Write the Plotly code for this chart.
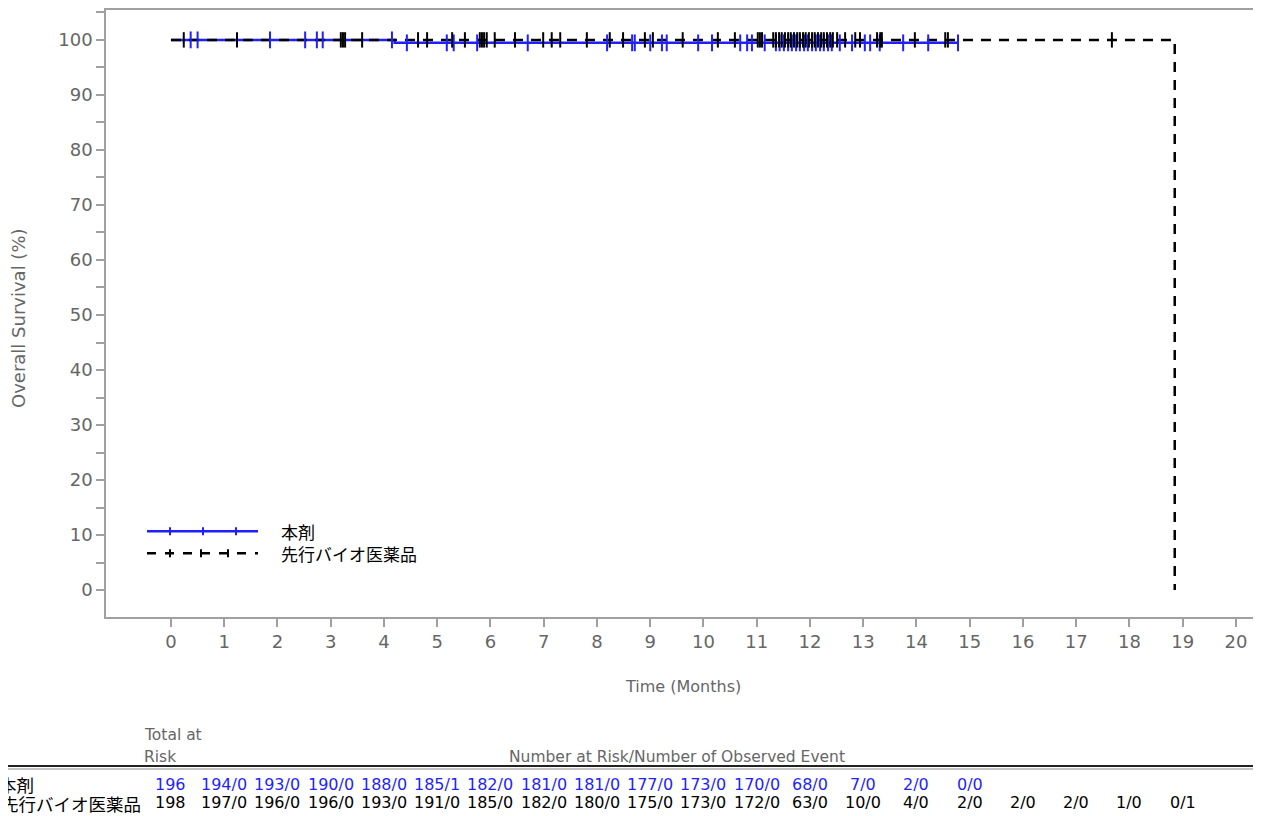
import plotly.graph_objects as go

# ---------------- data ----------------
groups = ["本剤", "先行バイオ医薬品"]

# Kaplan-Meier step points (time in months, survival %)
blue_times = [0.0, 4.20, 14.78]
blue_surv = [100.0, 99.46, 99.46]
black_times = [0.0, 18.85, 18.85]
black_surv = [100.0, 100.0, 0.0]

# censoring times
blue_censor = [0.37, 0.50, 1.86, 2.52, 2.74, 2.85, 4.15, 4.43, 5.18, 5.31, 5.75, 6.70,
               8.19, 8.66, 8.71, 9.00, 9.22, 9.31, 9.90, 10.16, 10.69, 10.82, 10.91,
               11.15, 11.36, 11.43, 11.51, 11.59, 11.66, 11.74, 11.81, 11.89, 11.96,
               12.04, 12.11, 12.19, 12.26, 12.34, 12.41, 12.56, 12.79, 13.03, 13.13,
               13.31, 13.75, 14.22, 14.78]
black_censor = [0.24, 1.24, 3.19, 3.23, 3.27, 3.59, 4.64, 4.81, 5.28, 5.52, 5.80, 5.84,
                5.88, 5.93, 6.08, 6.46, 6.99, 7.15, 7.31, 7.81, 8.24, 8.49, 8.90, 9.05,
                9.61, 10.27, 10.59, 11.02, 11.06, 11.10, 11.31, 11.36, 11.42, 11.47,
                11.53, 11.59, 11.64, 11.70, 11.76, 11.81, 11.87, 11.92, 11.98, 12.04,
                12.09, 12.15, 12.21, 12.26, 12.32, 12.38, 12.43, 12.51, 12.66, 12.85,
                12.94, 13.26, 13.32, 13.35, 13.97, 14.54, 14.59, 17.67]

risk_months_blue = list(range(0, 16))
risk_blue = ["196", "194/0", "193/0", "190/0", "188/0", "185/1", "182/0", "181/0",
             "181/0", "177/0", "173/0", "170/0", "68/0", "7/0", "2/0", "0/0"]
risk_months_black = list(range(0, 20))
risk_black = ["198", "197/0", "196/0", "196/0", "193/0", "191/0", "185/0", "182/0",
              "180/0", "175/0", "173/0", "172/0", "63/0", "10/0", "4/0", "2/0", "2/0",
              "2/0", "1/0", "0/1"]

x_ticks = list(range(0, 21))
y_ticks = list(range(0, 101, 10))

# ---------------- geometry helpers (page pixel coords; page has 8px body offset) ----------------
OFF = 8
PAGE_W, PAGE_H = 1261, 816
W, H = PAGE_W - OFF, PAGE_H - OFF
PLOT_L, PLOT_R, PLOT_T, PLOT_B = 106, 1261, 8, 617   # page coords of plot box
L, R, T, B = PLOT_L - OFF, PAGE_W - PLOT_R, PLOT_T - OFF, PAGE_H - PLOT_B
PW, PH = PLOT_R - PLOT_L, PLOT_B - PLOT_T


def px(xp):
    return (xp - PLOT_L) / PW


def py(yp):
    return (PLOT_B - yp) / PH


BLUE = "#1f1fff"
BLACK = "#000000"
GRAY = "#666666"
FRAME = "#a0a0a0"
FONT = "DejaVu Sans"
CJK = "Noto Sans CJK JP"


def surv_at(times, surv, t):
    val = surv[0]
    for tt, ss in zip(times, surv):
        if tt <= t:
            val = ss
    return val


fig = go.Figure()

fig.add_trace(go.Scatter(x=blue_times, y=blue_surv, mode="lines", line=dict(color=BLUE, width=2.5, shape="hv"),
                         showlegend=False, hoverinfo="skip"))
fig.add_trace(go.Scatter(x=black_times, y=black_surv, mode="lines",
                         line=dict(color=BLACK, width=2.5, shape="hv", dash="10px,8px"),
                         showlegend=False, hoverinfo="skip"))
fig.add_trace(go.Scatter(x=blue_censor, y=[surv_at(blue_times, blue_surv, t) for t in blue_censor],
                         mode="markers", marker=dict(symbol="line-ns", size=12, line=dict(color=BLUE, width=2)),
                         showlegend=False, hoverinfo="skip"))
fig.add_trace(go.Scatter(x=black_censor, y=[100.0 for t in black_censor],
                         mode="markers", marker=dict(symbol="line-ns", size=11, line=dict(color=BLACK, width=2)),
                         showlegend=False, hoverinfo="skip"))

shapes = []
annotations = []

# custom legend
ly1, ly2 = py(531), py(553)
shapes.append(dict(type="line", xref="paper", yref="paper", x0=px(147), x1=px(258), y0=ly1, y1=ly1,
                   line=dict(color=BLUE, width=2.5)))
for xt in [170, 203, 236]:
    shapes.append(dict(type="line", xref="paper", yref="paper", x0=px(xt), x1=px(xt),
                       y0=py(527), y1=py(535), line=dict(color=BLUE, width=2)))
shapes.append(dict(type="line", xref="paper", yref="paper", x0=px(147), x1=px(258), y0=ly2, y1=ly2,
                   line=dict(color=BLACK, width=2.5, dash="9px,9px")))
for xt in [170, 201, 228]:
    shapes.append(dict(type="line", xref="paper", yref="paper", x0=px(xt), x1=px(xt),
                       y0=py(549), y1=py(557), line=dict(color=BLACK, width=2)))
annotations.append(dict(text=groups[0], xref="paper", yref="paper", x=px(279), y=ly1, xanchor="left",
                        yanchor="middle", showarrow=False, font=dict(family=CJK, size=17, color=BLACK)))
annotations.append(dict(text=groups[1], xref="paper", yref="paper", x=px(279), y=ly2, xanchor="left",
                        yanchor="middle", showarrow=False, font=dict(family=CJK, size=17, color=BLACK)))

# axis titles
annotations.append(dict(text="Time (Months)", xref="paper", yref="paper", x=px(683), y=py(687),
                        xanchor="center", yanchor="middle", showarrow=False,
                        font=dict(family=FONT, size=16, color=GRAY)))
annotations.append(dict(text="Overall Survival (%)", xref="paper", yref="paper", x=px(19), y=py(317),
                        xanchor="center", yanchor="middle", showarrow=False, textangle=-90,
                        font=dict(family=FONT, size=18, color=GRAY)))

# risk table headings
annotations.append(dict(text="Total at", xref="paper", yref="paper", x=px(142), y=py(735),
                        xanchor="left", yanchor="middle", showarrow=False,
                        font=dict(family=FONT, size=15.5, color=GRAY)))
annotations.append(dict(text="Risk", xref="paper", yref="paper", x=px(142), y=py(757),
                        xanchor="left", yanchor="middle", showarrow=False,
                        font=dict(family=FONT, size=15.5, color=GRAY)))
annotations.append(dict(text="Number at Risk/Number of Observed Event", xref="paper", yref="paper",
                        x=px(677), y=py(757), xanchor="center", yanchor="middle", showarrow=False,
                        font=dict(family=FONT, size=15.5, color=GRAY)))
shapes.append(dict(type="line", xref="paper", yref="paper", x0=px(0), x1=px(PAGE_W), y0=py(766.5), y1=py(766.5),
                   line=dict(color="#222222", width=2)))
shapes.append(dict(type="line", xref="paper", yref="paper", x0=px(0), x1=px(PAGE_W), y0=py(769.5), y1=py(769.5),
                   line=dict(color="#888888", width=1)))

# row labels
annotations.append(dict(text=groups[0], xref="paper", yref="paper", x=px(-3), y=py(785),
                        xanchor="left", yanchor="middle", showarrow=False,
                        font=dict(family=CJK, size=17.5, color=BLACK)))
annotations.append(dict(text=groups[1], xref="paper", yref="paper", x=px(143), y=py(804),
                        xanchor="right", yanchor="middle", showarrow=False,
                        font=dict(family=CJK, size=17.5, color=BLACK)))

for m, t in zip(risk_months_blue, risk_blue):
    annotations.append(dict(text=t, xref="x", yref="paper", x=m, y=py(785), xanchor="center",
                            yanchor="middle", showarrow=False, font=dict(family=FONT, size=16, color=BLUE)))
for m, t in zip(risk_months_black, risk_black):
    annotations.append(dict(text=t, xref="x", yref="paper", x=m, y=py(803), xanchor="center",
                            yanchor="middle", showarrow=False, font=dict(family=FONT, size=16, color=BLACK)))

fig.update_layout(
    width=W, height=H,
    margin=dict(l=L, r=R, t=T, b=B, pad=0),
    plot_bgcolor="white", paper_bgcolor="white",
    showlegend=False,
    shapes=shapes,
    annotations=annotations,
    xaxis=dict(range=[-1.22, 20.47], tickvals=x_ticks, ticktext=[str(v) for v in x_ticks],
               showgrid=False, zeroline=False, showline=True, linecolor=FRAME, linewidth=1.5,
               mirror=True, ticks="outside", ticklen=8, tickcolor=FRAME, tickwidth=1.5,
               tickfont=dict(family=FONT, size=18, color=GRAY)),
    yaxis=dict(range=[-4.89, 105.43], tickvals=y_ticks, ticktext=[str(v) for v in y_ticks],
               showgrid=False, zeroline=False, showline=True, linecolor=FRAME, linewidth=1.5,
               ticks="outside", ticklen=8, tickcolor=FRAME, tickwidth=1.5,
               minor=dict(dtick=5, tick0=0, ticks="outside", ticklen=8, tickcolor=FRAME, tickwidth=1.5),
               tickfont=dict(family=FONT, size=18, color=GRAY)),
)

fig.write_html("out.html")
